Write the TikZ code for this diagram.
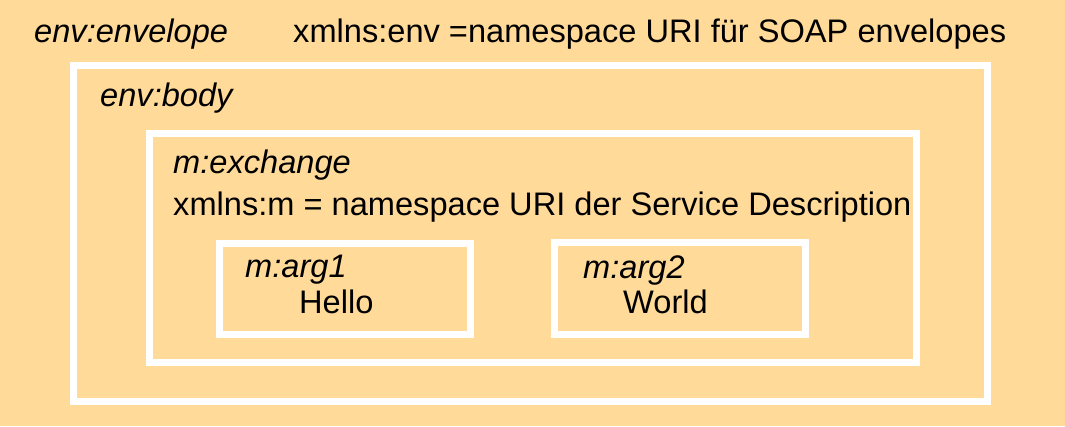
\documentclass[tikz,border=0pt]{standalone}
\usepackage{fontspec}
\setmainfont{Liberation Sans}
\definecolor{bg}{RGB}{255,218,153}
\tikzset{
  box/.style={draw=white, line width=7pt},
  lbl/.style={anchor=base west, inner sep=0pt, font=\fontsize{32.6}{38}\selectfont},
  ilbl/.style={lbl, font=\fontsize{32.6}{38}\selectfont\itshape}
}
\begin{document}
\begin{tikzpicture}[x=1pt,y=-1pt]
\fill[bg] (0,0) rectangle (1065,426);
\useasboundingbox (0,0) rectangle (1065,426);
\draw[box] (73.5,65.5) rectangle (987.5,401);
\draw[box] (149,133) rectangle (916,362);
\draw[box] (219.5,243) rectangle (470,334);
\draw[box] (554.7,242.5) rectangle (805.5,334);
\node[ilbl] (envlope) at (34,42.5) {env:envelope};
\node[lbl] (ns) at (293,42.5) {xmlns:env =namespace URI für SOAP envelopes};
\node[ilbl] (body) at (100,106) {env:body};
\node[ilbl] (exch) at (173,173) {m:exchange};
\node[lbl] (nsm) at (173,215) {xmlns:m = namespace URI der Service Description};
\node[ilbl] (arg1) at (245,277) {m:arg1};
\node[lbl] (hello) at (299,313) {Hello};
\node[ilbl] (arg2) at (583,278) {m:arg2};
\node[lbl] (world) at (623,313) {World};
\end{tikzpicture}
\end{document}
